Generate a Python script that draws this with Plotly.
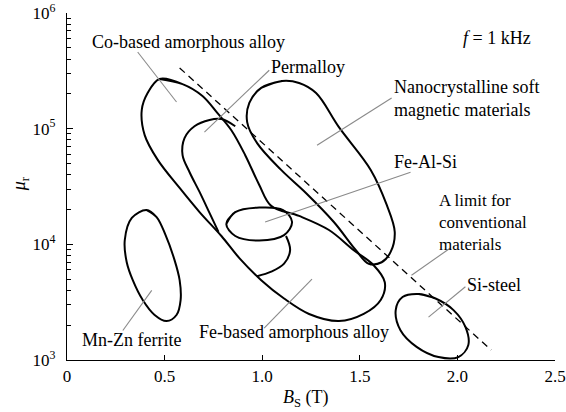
import math
import plotly.graph_objects as go

# ---- region outlines (Bs in T, relative permeability) ----
# outer outline: Co-based amorphous top, running down into the Fe-based amorphous region
co_bs = [0.474, 0.592, 0.694, 0.770, 0.842, 0.913, 0.985, 1.046, 1.189, 1.342, 1.469, 1.571,
         1.628, 1.607, 1.520, 1.393, 1.240, 1.112, 0.995, 0.883, 0.791, 0.679, 0.577, 0.464,
         0.398, 0.383, 0.413]
co_mu = [2.69e5, 2.43e5, 1.92e5, 1.37e5, 9.7e4, 5.9e4, 3.26e4, 2.15e4, 1.76e4, 1.33e4, 8.9e3, 6.6e3,
         4.7e3, 3.3e3, 2.5e3, 2.17e3, 2.5e3, 3.4e3, 4.9e3, 7.6e3, 1.18e4, 1.9e4, 3.07e4, 5.4e4,
         8.8e4, 1.45e5, 2.03e5]

# permalloy (open arc, merges with the outline above)
perm_bs = [0.862, 0.791, 0.730, 0.653, 0.602, 0.592, 0.628, 0.679, 0.730, 0.776]
perm_mu = [1.05e5, 1.21e5, 1.19e5, 1.05e5, 8.3e4, 5.9e4, 4.2e4, 2.84e4, 1.87e4, 1.28e4]

# Fe-Al-Si ellipse + lower lobe
fealsi_bs = [0.816, 0.862, 0.985, 1.107, 1.153, 1.112, 0.985, 0.862]
fealsi_mu = [1.5e4, 1.9e4, 2.08e4, 1.98e4, 1.56e4, 1.2e4, 1.08e4, 1.18e4]
lobe_bs = [1.122, 1.143, 1.112, 1.046, 0.974]
lobe_mu = [1.18e4, 8.9e3, 6.8e3, 5.8e3, 5.3e3]

# nanocrystalline
nano_bs = [1.102, 0.995, 0.934, 0.923, 0.974, 1.097, 1.224, 1.367, 1.480, 1.546, 1.612, 1.658,
           1.679, 1.638, 1.556, 1.393, 1.276, 1.189]
nano_mu = [2.58e5, 2.25e5, 1.67e5, 1.14e5, 7.5e4, 4.4e4, 2.78e4, 1.56e4, 8.9e3, 6.8e3, 7.0e3, 8.6e3,
           1.28e4, 2.19e4, 4.4e4, 1.03e5, 2.03e5, 2.48e5]

# Mn-Zn ferrite
mnzn_bs = [0.408, 0.459, 0.505, 0.551, 0.577, 0.582, 0.561, 0.510, 0.449, 0.388, 0.337, 0.306, 0.296, 0.332]
mnzn_mu = [1.98e4, 1.72e4, 1.2e4, 7.3e3, 4.9e3, 3.3e3, 2.45e3, 2.17e3, 2.45e3, 3.3e3, 4.9e3, 7.0e3, 1.09e4, 1.69e4]

# Si-steel
sist_bs = [1.801, 1.888, 1.980, 2.041, 2.056, 2.005, 1.903, 1.791, 1.709, 1.684, 1.719]
sist_mu = [3.72e3, 3.4e3, 2.7e3, 1.93e3, 1.35e3, 1.06e3, 1.06e3, 1.30e3, 1.8e3, 2.7e3, 3.5e3]

# limit for conventional materials (dashed)
limit_bs = [0.577, 2.173]
limit_mu = [3.35e5, 1.22e3]

# leader lines: (Bs start, mu start, Bs end, mu end)
leaders = {
    "co":     (0.362, 4.6e5, 0.561, 1.70e5),
    "perm":   (1.036, 3.2e5, 0.704, 9.35e4),
    "nano":   (1.663, 1.84e5, 1.281, 7.2e4),
    "fealsi": (1.760, 4.2e4, 1.015, 1.56e4),
    "limit":  (1.964, 9.3e3, 1.765, 5.4e3),
    "sist":   (2.041, 4.3e3, 1.852, 2.35e3),
    "mnzn":   (0.286, 1.8e3, 0.434, 4.0e3),
    "febase": (1.010, 1.89e3, 1.255, 5.0e3),
}

# text labels: (text, left Bs, mu at text centre, font size)
labels = [
    ("Co-based amorphous alloy", 0.117, 5.61e5, 18),
    ("Permalloy", 1.036, 3.41e5, 18),
    ("<i>f</i> = 1 kHz", 2.020, 6.08e5, 18),
    ("Nanocrystalline soft<br>magnetic materials", 1.663, 1.84e5, 18),
    ("Fe-Al-Si", 1.663, 5.15e4, 18),
    ("A limit for<br>conventional<br>materials", 1.893, 1.56e4, 17),
    ("Si-steel", 2.041, 4.46e3, 18),
    ("Mn-Zn ferrite", 0.066, 1.49e3, 18),
    ("Fe-based amorphous alloy", 0.668, 1.75e3, 18),
]

x_ticks = [0, 0.5, 1.0, 1.5, 2.0, 2.5]
x_ticktext = ["0", "0.5", "1.0", "1.5", "2.0", "2.5"]
y_ticks = [1e3, 1e4, 1e5, 1e6]
y_ticktext = ["10<sup>3</sup>", "10<sup>4</sup>", "10<sup>5</sup>", "10<sup>6</sup>"]
y_minor = [k * 10 ** e for e in (3, 4, 5) for k in range(2, 10)]

FONT = "Liberation Serif, Times New Roman, serif"


def closed(xs, ys):
    # repeat the first two points so the spline closes smoothly
    return xs + xs[:2], ys + ys[:2]


fig = go.Figure()

outline = dict(color="black", width=2, shape="spline", smoothing=1)

for xs, ys in [(co_bs, co_mu), (fealsi_bs, fealsi_mu), (nano_bs, nano_mu),
               (mnzn_bs, mnzn_mu), (sist_bs, sist_mu)]:
    cx, cy = closed(xs, ys)
    fig.add_trace(go.Scatter(x=cx, y=cy, mode="lines", line=outline,
                             showlegend=False, hoverinfo="skip"))

for xs, ys in [(perm_bs, perm_mu), (lobe_bs, lobe_mu)]:
    fig.add_trace(go.Scatter(x=xs, y=ys, mode="lines", line=outline,
                             showlegend=False, hoverinfo="skip"))

fig.add_trace(go.Scatter(x=limit_bs, y=limit_mu, mode="lines",
                         line=dict(color="black", width=1.3, dash="7px,5px"),
                         showlegend=False, hoverinfo="skip"))

for x0, y0, x1, y1 in leaders.values():
    fig.add_trace(go.Scatter(x=[x0, x1], y=[y0, y1], mode="lines",
                             line=dict(color="#8a8a8a", width=1.1),
                             showlegend=False, hoverinfo="skip"))

for txt, x, y, size in labels:
    # annotations on a log axis take log10 positions
    fig.add_annotation(x=x, y=math.log10(y), text=txt, showarrow=False,
                       xanchor="left", yanchor="middle", align="left",
                       font=dict(family=FONT, size=size, color="black"))

# axis titles
fig.add_annotation(xref="paper", yref="paper", x=0.49, y=-0.11, showarrow=False,
                   xanchor="center", yanchor="middle",
                   text="<i>B</i><sub>S</sub> (T)", font=dict(family=FONT, size=18, color="black"))
fig.add_annotation(xref="paper", yref="paper", x=-0.096, y=0.507, showarrow=False,
                   xanchor="center", yanchor="middle", textangle=-90,
                   text="<i>μ</i><sub>r</sub>", font=dict(family=FONT, size=18, color="black"))

fig.update_xaxes(range=[0, 2.5], showline=True, linecolor="black", linewidth=1.3,
                 ticks="inside", ticklen=5, tickcolor="black", tickwidth=1, automargin=False,
                 tickvals=x_ticks, ticktext=x_ticktext, showgrid=False, zeroline=False,
                 ticklabeloverflow="allow",
                 tickfont=dict(family=FONT, size=17, color="black"))
fig.update_yaxes(type="log", range=[3, 6], showline=True, linecolor="black", linewidth=1.3,
                 ticks="inside", ticklen=6, tickcolor="black", tickwidth=1, automargin=False,
                 tickvals=y_ticks, ticktext=y_ticktext, showgrid=False, zeroline=False,
                 ticklabelstandoff=7, ticklabeloverflow="allow",
                 minor=dict(ticks="inside", ticklen=4, tickcolor="black", tickmode="array",
                            tickvals=y_minor, showgrid=False),
                 tickfont=dict(family=FONT, size=17, color="black"))

fig.update_layout(width=566, height=412, margin=dict(l=67, r=11, t=13, b=52),
                  plot_bgcolor="white", paper_bgcolor="white")

# drop the default 8px page margin so the figure fills the window; no toolbar
fig.write_html("out.html", config={"displayModeBar": False},
               post_script="document.body.style.margin='0';")
